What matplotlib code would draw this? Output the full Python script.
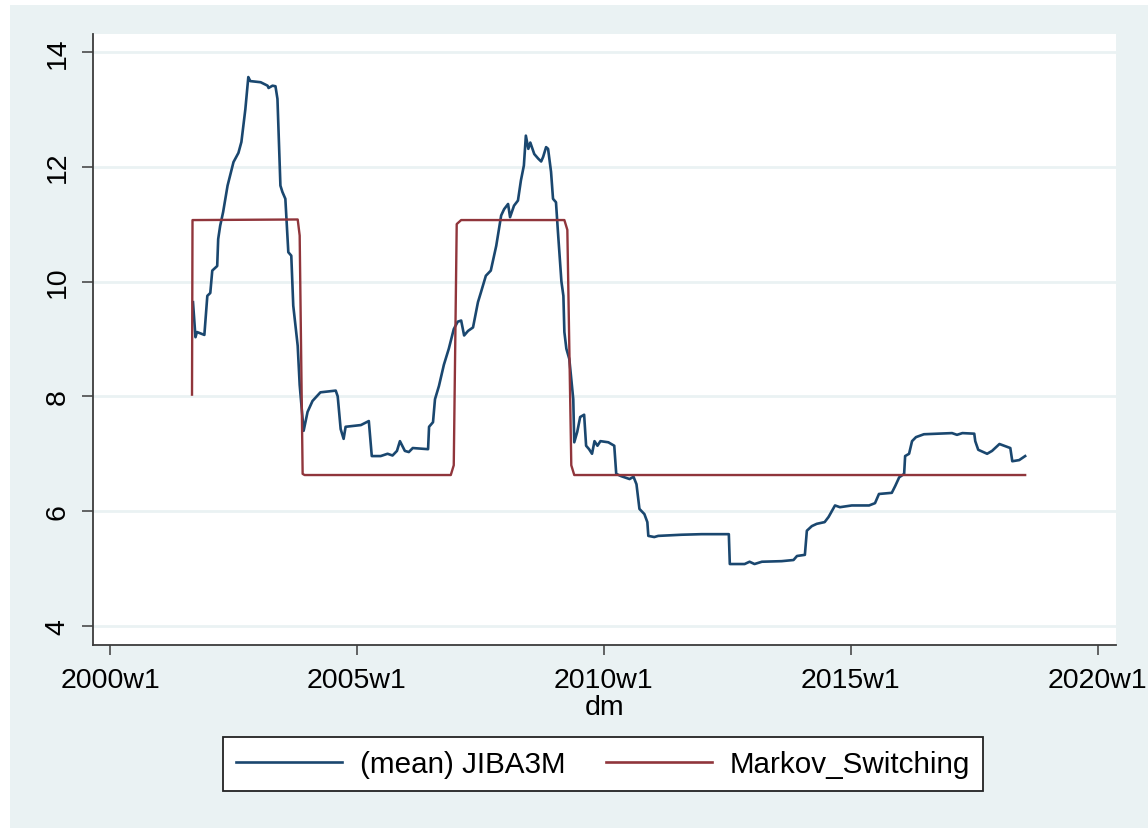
import matplotlib
matplotlib.use("Agg")
import matplotlib.pyplot as plt
from matplotlib.patches import Rectangle

plt.rcParams['font.family'] = ['Liberation Sans', 'DejaVu Sans']

# --- data (decimal years) ---
jiba_year = [
    2001.68, 2001.73, 2001.76, 2001.91, 2001.97, 2002.03, 2002.07, 2002.17, 2002.19, 2002.23,
    2002.29, 2002.38, 2002.50, 2002.60, 2002.66, 2002.74, 2002.80, 2002.84, 2003.05, 2003.19,
    2003.21, 2003.29, 2003.35, 2003.39, 2003.45, 2003.49, 2003.55, 2003.61, 2003.67, 2003.71,
    2003.80, 2003.84, 2003.86, 2003.92, 2004.00, 2004.10, 2004.26, 2004.57, 2004.61, 2004.67,
    2004.73, 2004.77, 2005.08, 2005.24, 2005.30, 2005.48, 2005.62, 2005.72, 2005.81, 2005.87,
    2005.97, 2006.05, 2006.13, 2006.44, 2006.46, 2006.54, 2006.58, 2006.66, 2006.76, 2006.86,
    2006.96, 2007.04, 2007.11, 2007.17, 2007.25, 2007.35, 2007.45, 2007.51, 2007.61, 2007.71,
    2007.82, 2007.92, 2007.98, 2008.06, 2008.10, 2008.18, 2008.26, 2008.32, 2008.38, 2008.42,
    2008.47, 2008.51, 2008.59, 2008.67, 2008.73, 2008.77, 2008.83, 2008.87, 2008.93, 2008.97,
    2009.03, 2009.07, 2009.14, 2009.18, 2009.20, 2009.24, 2009.30, 2009.38, 2009.40, 2009.46,
    2009.52, 2009.60, 2009.64, 2009.70, 2009.76, 2009.81, 2009.87, 2009.93, 2010.09, 2010.21,
    2010.25, 2010.35, 2010.52, 2010.60, 2010.66, 2010.72, 2010.82, 2010.88, 2010.90, 2011.02,
    2011.10, 2011.57, 2011.98, 2012.53, 2012.55, 2012.85, 2012.95, 2013.05, 2013.20, 2013.60,
    2013.84, 2013.91, 2014.07, 2014.11, 2014.21, 2014.31, 2014.47, 2014.55, 2014.68, 2014.78,
    2015.02, 2015.37, 2015.49, 2015.57, 2015.83, 2015.90, 2015.98, 2016.08, 2016.10, 2016.18,
    2016.24, 2016.32, 2016.48, 2017.05, 2017.15, 2017.26, 2017.50, 2017.52, 2017.58, 2017.76,
    2017.86, 2018.01, 2018.23, 2018.27, 2018.41, 2018.53,
]
jiba_value = [
    9.64, 9.03, 9.12, 9.07, 9.75, 9.80, 10.19, 10.27, 10.74, 10.97,
    11.21, 11.67, 12.08, 12.24, 12.43, 13.00, 13.56, 13.49, 13.47, 13.41,
    13.37, 13.41, 13.40, 13.18, 11.67, 11.56, 11.44, 10.51, 10.45, 9.58,
    8.88, 8.20, 8.00, 7.40, 7.73, 7.92, 8.07, 8.10, 8.00, 7.43,
    7.26, 7.47, 7.50, 7.57, 6.96, 6.96, 7.00, 6.97, 7.05, 7.22,
    7.05, 7.03, 7.10, 7.08, 7.47, 7.55, 7.95, 8.18, 8.55, 8.83,
    9.17, 9.30, 9.32, 9.06, 9.14, 9.20, 9.64, 9.81, 10.10, 10.19,
    10.62, 11.15, 11.26, 11.35, 11.12, 11.32, 11.41, 11.76, 12.02, 12.54,
    12.31, 12.42, 12.22, 12.14, 12.09, 12.17, 12.34, 12.31, 11.91, 11.44,
    11.38, 10.86, 10.00, 9.75, 9.12, 8.83, 8.65, 7.95, 7.20, 7.38,
    7.64, 7.68, 7.14, 7.08, 7.00, 7.22, 7.14, 7.22, 7.20, 7.14,
    6.65, 6.61, 6.56, 6.60, 6.47, 6.04, 5.95, 5.81, 5.57, 5.55,
    5.57, 5.59, 5.60, 5.60, 5.08, 5.08, 5.12, 5.08, 5.12, 5.13,
    5.15, 5.22, 5.24, 5.66, 5.74, 5.78, 5.81, 5.90, 6.10, 6.07,
    6.10, 6.10, 6.14, 6.30, 6.32, 6.44, 6.59, 6.65, 6.96, 7.00,
    7.22, 7.29, 7.34, 7.36, 7.33, 7.36, 7.35, 7.22, 7.07, 7.00,
    7.05, 7.17, 7.10, 6.87, 6.89, 6.96,
]

ms_year = [2001.66, 2001.67, 2001.73, 2003.80, 2003.84, 2003.90, 2003.94,
           2006.90, 2006.96, 2007.02, 2007.11, 2009.20, 2009.26, 2009.34,
           2009.40, 2018.53]
ms_value = [8.03, 11.07, 11.07, 11.08, 10.80, 6.65, 6.63,
            6.63, 6.80, 11.00, 11.07, 11.07, 10.90, 6.80,
            6.63, 6.63]

x_ticks = [2000, 2005, 2010, 2015, 2020]
x_ticklabels = ['2000w1', '2005w1', '2010w1', '2015w1', '2020w1']
y_ticks = [4, 6, 8, 10, 12, 14]

bg = '#EAF2F3'
navy = '#1A476F'
maroon = '#90353B'
axis_col = '#3C3C3C'

fig = plt.figure(figsize=(11.48, 8.29), dpi=100, facecolor='white')
# Stata-style graph region behind everything
fig.add_artist(Rectangle((10 / 1148, 0), 1 - 10 / 1148, 1 - 6 / 829,
                         transform=fig.transFigure, facecolor=bg,
                         edgecolor='none', zorder=-10))

ax = fig.add_axes([93 / 1148, (829 - 646) / 829, (1116 - 93) / 1148, (646 - 35) / 829])
ax.set_zorder(2)
ax.set_facecolor('white')

ax.plot(jiba_year, jiba_value, color=navy, lw=1.9, label='(mean) JIBA3M', zorder=3)
ax.plot(ms_year, ms_value, color=maroon, lw=1.7, label='Markov_Switching', zorder=4)

ax.set_xlim(1999.655, 2020.37)
ax.set_ylim(3.67, 14.31)

ax.set_yticks(y_ticks)
ax.set_yticklabels([str(v) for v in y_ticks], rotation=90, va='center')
ax.set_xticks(x_ticks)
ax.set_xticklabels(x_ticklabels)
ax.yaxis.grid(True, color=bg, lw=2)
ax.set_axisbelow(True)

for s in ['top', 'right']:
    ax.spines[s].set_visible(False)
for s in ['left', 'bottom']:
    ax.spines[s].set_color(axis_col)
    ax.spines[s].set_linewidth(1.3)

ax.tick_params(axis='y', length=8, width=1.1, color=axis_col, pad=8, labelsize=20.5)
ax.tick_params(axis='x', length=7.5, width=1.1, color=axis_col, pad=8, labelsize=20.5)
ax.set_xlabel('dm', fontsize=20.5, labelpad=1)

leg = fig.legend(loc='center', bbox_to_anchor=(603 / 1148, 1 - 765 / 829), ncol=2,
                 fontsize=21.3, frameon=True, fancybox=False, shadow=False,
                 framealpha=1, facecolor='white',
                 handlelength=3.6, handletextpad=0.6, columnspacing=1.35,
                 borderpad=0.45, borderaxespad=0)
leg.set_zorder(5)
leg.get_frame().set_edgecolor('#222222')
leg.get_frame().set_linewidth(1.3)
for line in leg.get_lines():
    line.set_linewidth(1.9)

fig.savefig('out.png', dpi=100, facecolor=fig.get_facecolor())
